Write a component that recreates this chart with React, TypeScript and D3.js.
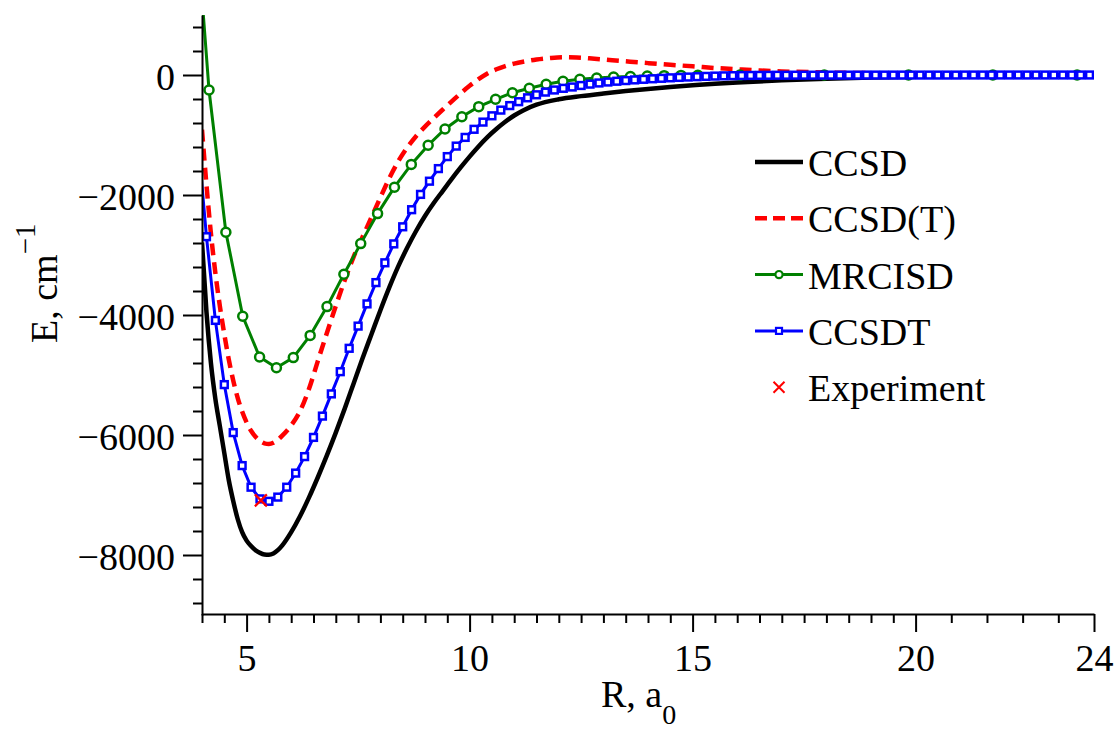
import React, { useEffect, useRef } from 'react';
import * as d3 from 'd3';

// R in bohr, E in cm^-1
const BOHR_PER_ANGSTROM = 1.88973;

const ccsdR = [4.0, 4.1, 4.2, 4.3, 4.4, 4.5, 4.6, 4.7, 4.8, 4.9, 5.0, 5.1, 5.2, 5.3, 5.4, 5.5, 5.6, 5.7, 5.8,
  6.0, 6.2, 6.4, 6.6, 6.8, 7.0, 7.2, 7.4, 7.6, 7.8, 8.0, 8.2, 8.4, 8.6, 8.8, 9.0, 9.2, 9.4, 9.6, 9.8, 10.0,
  10.2, 10.4, 10.6, 10.8, 11.0, 11.2, 11.5, 12.0, 12.5, 13.0, 13.5, 14.0, 14.5, 15.0, 15.5, 16.0,
  17.0, 18.0, 19.0, 20.0, 21.0, 22.0, 23.0, 24.0];
const ccsdE = [-2790, -3950, -4800, -5400, -5850, -6300, -6750, -7100, -7400, -7620, -7760, -7850, -7920, -7965, -7990, -7995, -7975, -7920, -7840,
  -7620, -7350, -7040, -6700, -6340, -5960, -5560, -5140, -4720, -4320, -3920, -3540, -3190, -2880, -2600, -2350, -2130, -1930, -1730, -1540, -1360,
  -1190, -1035, -900, -780, -675, -590, -495, -405, -352, -308, -268, -232, -200, -172, -146, -124,
  -88, -62, -43, -30, -21, -14, -9, -6];

const ccsdPtR = [4.0, 4.1, 4.2, 4.3, 4.4, 4.5, 4.6, 4.7, 4.8, 4.9, 5.0, 5.1, 5.2, 5.3, 5.4, 5.5, 5.6, 5.7, 5.8,
  6.0, 6.2, 6.4, 6.6, 6.8, 7.0, 7.2, 7.4, 7.6, 7.8, 8.0, 8.2, 8.4, 8.6, 8.8, 9.0, 9.2, 9.4, 9.6, 9.8, 10.0,
  10.2, 10.4, 10.6, 10.8, 11.0, 11.2, 11.5, 11.8, 12.1, 12.4, 12.8, 13.2, 13.6, 14.0, 14.5, 15.0, 15.5, 16.0, 16.5,
  17.0, 18.0, 19.0, 20.0, 22.0, 24.0];
const ccsdPtE = [-911, -1830, -2640, -3300, -3850, -4320, -4740, -5090, -5380, -5610, -5790, -5930, -6030, -6100, -6140, -6150, -6130, -6080, -6010,
  -5840, -5600, -5230, -4760, -4300, -3850, -3420, -3030, -2700, -2370, -2040, -1720, -1440, -1210, -1020, -860, -715, -575, -440, -305, -180,
  -70, 25, 95, 148, 190, 222, 258, 282, 295, 292, 270, 245, 222, 198, 170, 145, 117, 95, 75,
  60, 42, 30, 20, 10, 5];

// MRCISD points were computed on an angstrom grid
const mrcisdA = [2.0, 2.2, 2.4, 2.6, 2.8, 3.0, 3.2, 3.4, 3.6, 3.8, 4.0, 4.2, 4.4, 4.6, 4.8, 5.0, 5.2, 5.4, 5.6, 5.8,
  6.0, 6.2, 6.4, 6.6, 6.8, 7.0, 7.2, 7.4, 7.6, 7.8, 8.0, 8.5, 9.5, 10.5, 11.5, 12.5];
const mrcisdE = [3460, -250, -2620, -4020, -4700, -4880, -4710, -4340, -3860, -3320, -2810, -2310, -1870, -1490, -1170, -900, -695, -528, -405, -295,
  -222, -155, -105, -70, -50, -35, -25, -17, -11, -7, -4, -1, 0, 0, 0, 0];

// CCSDT: grid of 0.2 bohr starting at 3.9 bohr
const ccsdtStart = 3.9;
const ccsdtStep = 0.2;
const ccsdtE = [
  -1000, -2695, -4090, -5160, -5960, -6510, -6870, -7065, -7105, -7035,
  -6870, -6635, -6360, -6040, -5685, -5315, -4945, -4555, -4185, -3815,
  -3460, -3130, -2815, -2530, -2245, -1990, -1770, -1560, -1360, -1185,
  -1040, -905, -785, -680, -585, -510, -445, -380, -330, -285,
  -250, -222, -200, -175, -152, -133, -117, -104, -93, -82,
  -72, -63, -55, -47, -40, -34, -28, -23, -18, -14,
  -11, -9, -7, -6, -5, -4, -4, -3, -3, -3,
  -2, -2, -2, -2, -2, -1, -1, -1, -1, -1,
  -1, -1, -1, -1, -1, -1, 0, 0, 0, 0,
  0, 0, 0, 0, 0, 0, 0, 0, 0, 0,
  0];

const expR = [5.32];
const expE = [-7090];

const yMajorTicks = [-8000, -6000, -4000, -2000, 0];
const xMajorTicks = [5, 10, 15, 20, 24];
const legendNames = ['CCSD', 'CCSD(T)', 'MRCISD', 'CCSDT', 'Experiment'];

const App = () => {
  const svgRef = useRef<SVGSVGElement>(null);

  useEffect(() => {
    const svg = d3.select(svgRef.current);
    svg.selectAll('*').remove();

    const font = '"Liberation Serif", "Times New Roman", serif';
    const x = d3.scaleLinear().domain([4, 24]).range([202, 1094]);
    const y = d3.scaleLinear().domain([-9000, 1000]).range([615, 15]);

    svg.append('defs').append('clipPath').attr('id', 'plot-clip')
      .append('rect').attr('x', 202).attr('y', 15).attr('width', 892).attr('height', 600);

    const zip = (rs: number[], es: number[]) => rs.map((r, i) => [r, es[i]]);
    const smooth = d3.line<number[]>().x(d => x(d[0])).y(d => y(d[1])).curve(d3.curveMonotoneX);
    const straight = d3.line<number[]>().x(d => x(d[0])).y(d => y(d[1]));
    const inside = (d: number[]) => d[0] >= 4 && d[0] <= 24;

    const ccsd = zip(ccsdR, ccsdE);
    const ccsdPt = zip(ccsdPtR, ccsdPtE);
    const mrcisd = zip(mrcisdA.map(a => a * BOHR_PER_ANGSTROM), mrcisdE);
    const ccsdt = ccsdtE.map((e, i) => [ccsdtStart + i * ccsdtStep, e]);
    const expt = zip(expR, expE);

    const plot = svg.append('g').attr('clip-path', 'url(#plot-clip)');

    plot.append('path').datum(ccsd).attr('d', smooth)
      .attr('fill', 'none').attr('stroke', '#000').attr('stroke-width', 4.5);

    plot.append('path').datum(ccsdPt).attr('d', smooth)
      .attr('fill', 'none').attr('stroke', '#ff0000').attr('stroke-width', 4.5)
      .attr('stroke-dasharray', '12,7');

    plot.append('path').datum(mrcisd).attr('d', straight)
      .attr('fill', 'none').attr('stroke', '#008000').attr('stroke-width', 3);
    plot.append('g').selectAll('circle').data(mrcisd.filter(inside)).join('circle')
      .attr('cx', d => x(d[0])).attr('cy', d => y(d[1])).attr('r', 4.5)
      .attr('fill', '#fff').attr('stroke', '#008000').attr('stroke-width', 2.5);

    plot.append('path').datum(ccsdt).attr('d', straight)
      .attr('fill', 'none').attr('stroke', '#0000ff').attr('stroke-width', 3);
    plot.append('g').selectAll('rect').data(ccsdt.filter(inside)).join('rect')
      .attr('x', d => x(d[0]) - 3.4).attr('y', d => y(d[1]) - 3.4)
      .attr('width', 6.8).attr('height', 6.8)
      .attr('fill', '#fff').attr('stroke', '#0000ff').attr('stroke-width', 2.5);

    plot.append('g').selectAll('path').data(expt).join('path')
      .attr('transform', d => `translate(${x(d[0])},${y(d[1])})`)
      .attr('d', 'M-6,-6L6,6M-6,6L6,-6')
      .attr('stroke', '#ff0000').attr('stroke-width', 2.2).attr('fill', 'none');

    // axes
    const styleAxis = (g: any) => {
      g.attr('font-size', 38).attr('font-family', font);
      g.selectAll('line').attr('stroke', '#000').attr('stroke-width', 2);
      g.select('.domain').attr('stroke', '#000').attr('stroke-width', 2);
      g.selectAll('text').attr('fill', '#000');
    };

    const yMinor = d3.range(-8800, 1000, 400).filter(v => v % 2000 !== 0);
    svg.append('g').attr('transform', 'translate(202,0)')
      .call(d3.axisLeft(y).tickValues(yMinor).tickSize(9).tickSizeOuter(0).tickFormat(() => ''))
      .call(styleAxis)
      .call(g => g.select('.domain').remove());
    svg.append('g').attr('transform', 'translate(202,0)')
      .call(d3.axisLeft(y).tickValues(yMajorTicks).tickSize(19).tickSizeOuter(0).tickPadding(8)
        .tickFormat(d3.format('d') as any))
      .call(styleAxis)
      .call(g => g.selectAll('text').attr('dy', '0.37em'));

    const xMinor = [...d3.range(4, 20, 0.5).filter(v => v % 5 !== 0), 20.8, 21.6, 22.4, 23.2];
    svg.append('g').attr('transform', 'translate(0,614)')
      .call(d3.axisBottom(x).tickValues(xMinor).tickSize(9).tickSizeOuter(0).tickFormat(() => ''))
      .call(styleAxis)
      .call(g => g.select('.domain').remove());
    svg.append('g').attr('transform', 'translate(0,614)')
      .call(d3.axisBottom(x).tickValues(xMajorTicks).tickSize(18).tickSizeOuter(0).tickPadding(12)
        .tickFormat(d3.format('d') as any))
      .call(styleAxis);

    // axis titles
    const xt = svg.append('text').attr('x', 601).attr('y', 707)
      .attr('font-family', font).attr('font-size', 38).attr('fill', '#000');
    xt.append('tspan').text('R, a');
    xt.append('tspan').attr('dy', 17).attr('font-size', 28).text('0');

    const yt = svg.append('text').attr('transform', 'translate(57,343) rotate(-90)')
      .attr('font-family', font).attr('font-size', 38).attr('fill', '#000');
    yt.append('tspan').text('E, cm');
    yt.append('tspan').attr('dy', -22).attr('font-size', 29).text('\u22121');

    // legend
    const legend = svg.append('g').attr('font-family', font).attr('font-size', 38);
    const rowY = (i: number) => 162 + i * 56.3;
    legendNames.forEach((name, i) => {
      const ly = rowY(i);
      const row = legend.append('g');
      if (i === 0) {
        row.append('line').attr('x1', 755).attr('x2', 803).attr('y1', ly).attr('y2', ly)
          .attr('stroke', '#000').attr('stroke-width', 4.5);
      } else if (i === 1) {
        row.append('line').attr('x1', 755).attr('x2', 803).attr('y1', ly).attr('y2', ly)
          .attr('stroke', '#ff0000').attr('stroke-width', 4.5).attr('stroke-dasharray', '12,6');
      } else if (i === 2) {
        row.append('line').attr('x1', 755).attr('x2', 803).attr('y1', ly).attr('y2', ly)
          .attr('stroke', '#008000').attr('stroke-width', 3);
        row.append('circle').attr('cx', 779).attr('cy', ly).attr('r', 3.6)
          .attr('fill', '#fff').attr('stroke', '#008000').attr('stroke-width', 2.2);
      } else if (i === 3) {
        row.append('line').attr('x1', 755).attr('x2', 803).attr('y1', ly).attr('y2', ly)
          .attr('stroke', '#0000ff').attr('stroke-width', 3);
        row.append('rect').attr('x', 776).attr('y', ly - 3).attr('width', 6).attr('height', 6)
          .attr('fill', '#fff').attr('stroke', '#0000ff').attr('stroke-width', 2.2);
      } else {
        row.append('path').attr('transform', `translate(779,${ly})`)
          .attr('d', 'M-5.5,-5.5L5.5,5.5M-5.5,5.5L5.5,-5.5')
          .attr('stroke', '#ff0000').attr('stroke-width', 2);
      }
      row.append('text').attr('x', 808).attr('y', ly + 14).attr('fill', '#000').text(name);
    });
  }, []);

  return (
    <svg ref={svgRef} width={1120} height={731}
      style={{ position: 'absolute', left: 0, top: 0, background: '#fff' }} />
  );
};

export default App;
